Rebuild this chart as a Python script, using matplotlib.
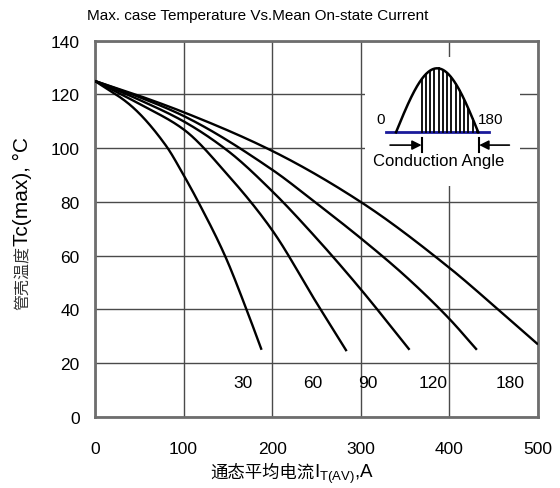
import numpy as np
import matplotlib
matplotlib.use("Agg")
import matplotlib.pyplot as plt

plt.rcParams['font.family'] = ['Liberation Sans', 'Noto Sans CJK SC', 'DejaVu Sans']
plt.rcParams['mathtext.fontset'] = 'custom'
plt.rcParams['mathtext.rm'] = 'Liberation Sans'

# ---- data ----
angle_labels = ["30", "60", "90", "120", "180"]
x30 = [0, 40, 80, 100, 116.6, 146.7, 171, 188]
y30 = [125, 116, 101, 90, 80, 60, 40, 25]
x60 = [0, 50, 100, 150, 200, 250, 284]
y60 = [125, 116.5, 107, 90, 69.5, 42.5, 24.5]
x90 = [0, 50, 100, 150, 200, 250, 300, 355]
y90 = [125, 118, 110, 99, 84, 66.5, 47.5, 25]
x120 = [0, 50, 100, 200, 250, 300, 350, 400, 431]
y120 = [125, 119, 112, 92, 79.5, 66.5, 52.5, 36.5, 25]
x180 = [0, 50, 100, 200, 300, 400, 455, 500]
y180 = [125, 119.5, 113.4, 99, 80, 55.5, 40, 27]
label_x = [167, 246, 308, 382, 468]
label_y = [13, 13, 13, 13, 13]
xticks = [0, 100, 200, 300, 400, 500]
yticks = [0, 20, 40, 60, 80, 100, 120, 140]

curves = [(x30, y30), (x60, y60), (x90, y90), (x120, y120), (x180, y180)]


def pchip(x, y, xs):
    x = np.asarray(x, float); y = np.asarray(y, float)
    h = np.diff(x); d = np.diff(y) / h
    n = len(x)
    m = np.zeros(n)
    m[0] = d[0]; m[-1] = d[-1]
    for k in range(1, n - 1):
        if d[k - 1] * d[k] > 0:
            w1 = 2 * h[k] + h[k - 1]
            w2 = h[k] + 2 * h[k - 1]
            m[k] = (w1 + w2) / (w1 / d[k - 1] + w2 / d[k])
    idx = np.clip(np.searchsorted(x, xs) - 1, 0, n - 2)
    t = (xs - x[idx]) / h[idx]
    h00 = 2 * t**3 - 3 * t**2 + 1
    h10 = t**3 - 2 * t**2 + t
    h01 = -2 * t**3 + 3 * t**2
    h11 = t**3 - t**2
    return h00 * y[idx] + h10 * h[idx] * m[idx] + h01 * y[idx + 1] + h11 * h[idx] * m[idx + 1]


W, H = 560, 489
fig = plt.figure(figsize=(W / 100, H / 100), dpi=100)
L, R, T, B = 95, 538, 41.7, 418
ax = fig.add_axes([L / W, 1 - B / H, (R - L) / W, (B - T) / H])
ax.set_xlim(0, 500)
ax.set_ylim(0, 140)
ax.set_xticks(xticks)
ax.set_yticks(yticks)
ax.tick_params(length=0, labelsize=12.5)
ax.tick_params(axis='y', pad=11)
ax.tick_params(axis='x', pad=17)
ax.grid(True, color='#4a4a4a', linewidth=1.0)
ax.set_axisbelow(True)
for s in ax.spines.values():
    s.set_color('#6e6e6e')
    s.set_linewidth(2.0)

for (xs, ys) in curves:
    xx = np.linspace(xs[0], xs[-1], 300)
    ax.plot(xx, pchip(xs, ys, xx), color='black', lw=1.7, zorder=3, solid_capstyle='butt')

for lab, lx, ly in zip(angle_labels, label_x, label_y):
    ax.text(lx, ly, lab, ha='center', va='center', fontsize=12.5, zorder=4)

fig.text(87 / W, 1 - 16 / H, "Max. case Temperature Vs.Mean On-state Current",
         ha='left', va='center', fontsize=11)

renderer = fig.canvas.get_renderer()
# x label: CJK part + Latin part with subscript
xl1 = fig.text(210 / W, 1 - 478 / H, "通态平均电流", ha='left', va='baseline', fontsize=12.5)
bb = xl1.get_window_extent(renderer)
fig.text(bb.x1 / W, 1 - 478 / H, "$\\mathregular{I_{T(AV)}}$,A", ha='left', va='baseline', fontsize=13.5)

# y label: CJK part + Latin part
yl1 = fig.text(28 / W, 1 - 310 / H, "管壳温度", rotation=90, rotation_mode='anchor',
               ha='left', va='baseline', fontsize=11.5, color='#333333')
bb = yl1.get_window_extent(renderer)
fig.text(28 / W, bb.y1 / H, "Tc(max), °C", rotation=90, rotation_mode='anchor',
         ha='left', va='baseline', fontsize=15)

# ---- inset: conduction angle diagram ----
ix0, ix1, iy0, iy1 = 365, 520, 58, 187
iax = fig.add_axes([ix0 / W, 1 - iy1 / H, (ix1 - ix0) / W, (iy1 - iy0) / H])
iax.set_facecolor('white')
for s in iax.spines.values():
    s.set_visible(False)
iax.set_xticks([]); iax.set_yticks([])
pxdeg = (478.3 - 396) / 180.0
pxamp = 133.3 - 69.3
iax.set_xlim((ix0 - 396) / pxdeg, (ix1 - 396) / pxdeg)
iax.set_ylim(-(iy1 - 133.3) / pxamp, (133.3 - iy0) / pxamp)

th = np.linspace(0, 180, 200)
iax.plot([-22, 204], [0, 0], color='#1a1a9a', lw=2.0, zorder=2)
iax.plot(th, np.sin(np.radians(th)), color='black', lw=1.8, zorder=3)
for a in np.arange(56, 178, 9.3):
    iax.plot([a, a], [0, np.sin(np.radians(a))], color='black', lw=1.3, zorder=3)
iax.text(-33, 0.21, "0", ha='center', va='center', fontsize=11)
iax.text(180, 0.21, "180", ha='left', va='center', fontsize=11)
yarr = -0.2
iax.annotate("", xy=(56, yarr), xytext=(-13, yarr),
             arrowprops=dict(arrowstyle='-|>', color='black', lw=1.2, mutation_scale=14, shrinkA=0, shrinkB=0))
iax.plot([56, 56], [-0.09, -0.3], color='black', lw=1.5)
iax.annotate("", xy=(182, yarr), xytext=(248, yarr),
             arrowprops=dict(arrowstyle='-|>', color='black', lw=1.2, mutation_scale=14, shrinkA=0, shrinkB=0))
iax.plot([182, 182], [-0.09, -0.3], color='black', lw=1.5)
iax.text(94, -0.44, "Conduction Angle", ha='center', va='center', fontsize=12)

fig.savefig("out.png", dpi=100)
